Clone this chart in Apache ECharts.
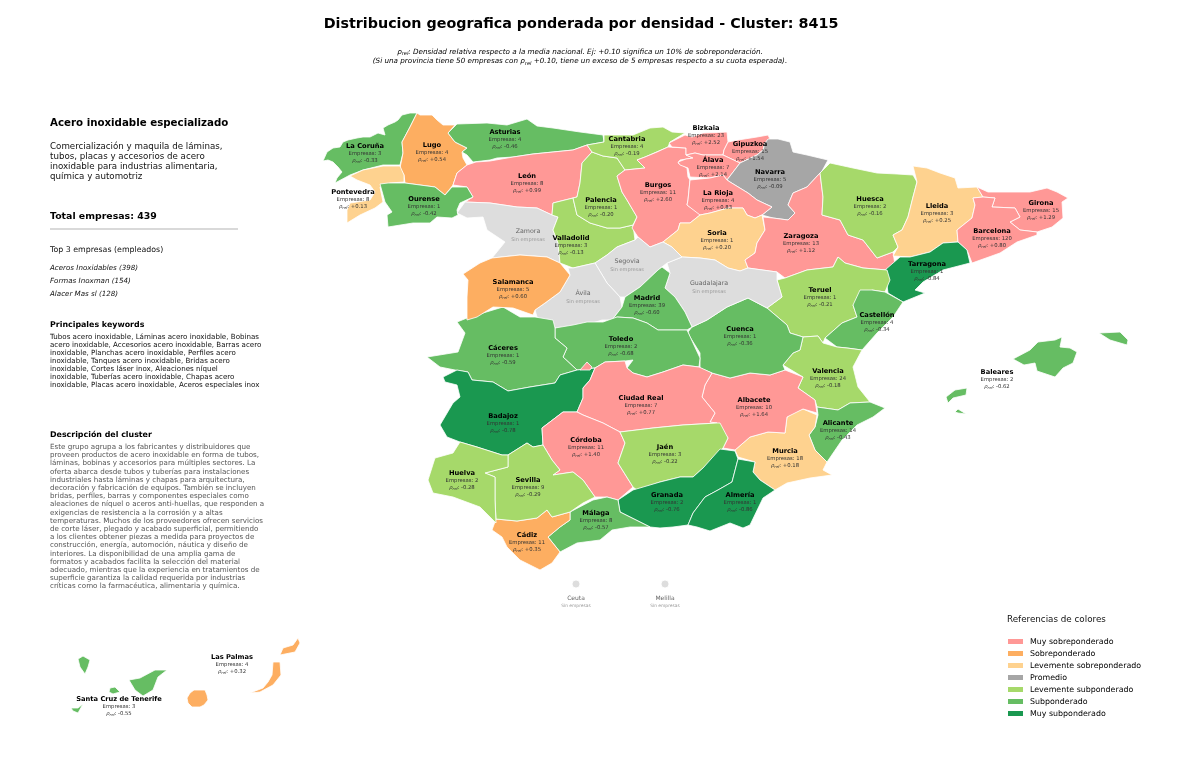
<!DOCTYPE html>
<html>
<head>
<meta charset="utf-8">
<title>Distribucion geografica</title>
<script src="https://cdn.jsdelivr.net/npm/echarts@6/dist/echarts.min.js"></script>
<style>
html,body{margin:0;padding:0;background:#fff;}
#chart{width:1200px;height:761px;}
</style>
</head>
<body>
<div id="chart"></div>
<script>
const provinces = ['La Coruña','Lugo','Asturias','León','Pontevedra','Ourense','Palencia','Valladolid','Salamanca','Cantabria','Bizkaia','Gipuzkoa','Álava','Burgos','La Rioja','Navarra','Soria','Zaragoza','Huesca','Madrid','Teruel','Lleida','Girona','Barcelona','Tarragona','Castellón','Baleares','Valencia','Cuenca','Toledo','Cáceres','Badajoz','Ciudad Real','Albacete','Alicante','Murcia','Jaén','Córdoba','Granada','Almería','Huelva','Sevilla','Málaga','Cádiz','Las Palmas','Santa Cruz de Tenerife'];
const empresas = [3,4,4,8,8,1,1,3,5,4,23,15,7,11,4,5,1,13,2,39,1,3,15,120,1,4,2,24,1,2,1,1,7,10,14,18,3,11,2,1,2,9,8,11,4,3];
const rhoRel = [-0.33,0.54,-0.46,0.99,0.13,-0.42,-0.20,-0.13,0.60,-0.19,2.52,1.54,2.14,2.60,0.83,-0.09,0.20,1.12,-0.16,-0.60,-0.21,0.25,1.29,0.80,-0.84,-0.34,-0.62,-0.18,-0.36,-0.68,-0.59,-0.78,0.77,1.64,-0.43,0.18,-0.22,1.40,-0.76,-0.86,-0.28,-0.29,-0.57,0.35,0.32,-0.55];
const sinEmpresas = ['Zamora','Ávila','Segovia','Guadalajara'];
const plazas = ['Ceuta','Melilla'];

const legendLabels = ['Muy sobreponderado','Sobreponderado','Levemente sobreponderado','Promedio','Levemente subponderado','Subponderado','Muy subponderado'];
const legendColors = ['#ff9896','#fdae61','#fed28f','#a6a6a6','#a6d96a','#66bd63','#1a9850'];

const resumen = 'Comercialización y maquila de láminas,\ntubos, placas y accesorios de acero\ninoxidable para industrias alimentaria,\nquímica y automotriz';
const top3 = ['Aceros Inoxidables (398)','Formas Inoxman (154)','Alacer Mas sl (128)'];
const keywords = 'Tubos acero inoxidable, Láminas acero inoxidable, Bobinas\nacero inoxidable, Accesorios acero inoxidable, Barras acero\ninoxidable, Planchas acero inoxidable, Perfiles acero\ninoxidable, Tanques acero inoxidable, Bridas acero\ninoxidable, Cortes láser inox, Aleaciones níquel\ninoxidable, Tuberías acero inoxidable, Chapas acero\ninoxidable, Placas acero inoxidable, Aceros especiales inox';
const descripcion = 'Este grupo agrupa a los fabricantes y distribuidores que\nproveen productos de acero inoxidable en forma de tubos,\nláminas, bobinas y accesorios para múltiples sectores. La\noferta abarca desde tubos y tuberías para instalaciones\nindustriales hasta láminas y chapas para arquitectura,\ndecoración y fabricación de equipos. También se incluyen\nbridas, perfiles, barras y componentes especiales como\naleaciones de níquel o aceros anti-huellas, que responden a\nexigencias de resistencia a la corrosión y a altas\ntemperaturas. Muchos de los proveedores ofrecen servicios\nde corte láser, plegado y acabado superficial, permitiendo\na los clientes obtener piezas a medida para proyectos de\nconstrucción, energía, automoción, náutica y diseño de\ninteriores. La disponibilidad de una amplia gama de\nformatos y acabados facilita la selección del material\nadecuado, mientras que la experiencia en tratamientos de\nsuperficie garantiza la calidad requerida por industrias\ncríticas como la farmacéutica, alimentaria y química.';

// province outlines traced in page pixels, [label anchor, ring, ring...]
const shapes = {
'La Coruña':[[365,153],[[417,113],[410,113],[402,115],[398,120],[395,122],[388,125],[383,128],[385,135],[378,133],[370,137],[363,137],[357,138],[348,140],[343,142],[340,147],[333,148],[327,152],[323,161],[328,160],[333,162],[338,167],[342,172],[337,178],[335,183],[350,175],[363,170],[383,165],[400,165],[403,153],[402,142],[410,127]]],
'Lugo':[[432,152],[[417,113],[420,115],[432,115],[437,120],[443,125],[455,125],[448,133],[455,142],[467,148],[462,152],[463,158],[467,165],[457,173],[453,185],[445,195],[435,187],[420,185],[405,183],[404,175],[400,168],[403,153],[402,142],[410,127]]],
'Asturias':[[505,139],[[448,133],[457,124],[487,123],[507,125],[527,119],[537,126],[553,128],[580,132],[603,135],[604,142],[587,145],[573,150],[553,152],[533,154],[513,157],[497,158],[490,160],[473,162],[467,155],[462,152],[467,148],[455,142]]],
'León':[[527,183],[[476,162],[490,161],[513,157],[533,154],[553,152],[573,150],[587,145],[592,152],[582,163],[580,183],[577,197],[553,203],[552,215],[537,208],[517,207],[490,203],[465,202],[473,197],[467,187],[453,185],[457,173],[467,165]]],
'Pontevedra':[[353,199],[[400,166],[404,175],[404,182],[390,183],[380,187],[383,202],[375,208],[360,215],[347,223],[347,210],[350,203],[370,200],[375,192],[370,185],[357,180],[350,176],[363,170],[383,166]]],
'Ourense':[[424,206],[[380,184],[388,183],[405,183],[420,185],[435,187],[445,195],[452,187],[467,187],[473,197],[460,203],[457,210],[458,215],[452,218],[437,217],[430,223],[413,223],[388,227],[387,215],[392,212],[385,202]]],
'Zamora':[[528,235],[[465,202],[490,203],[517,207],[537,208],[552,215],[558,217],[553,230],[558,243],[560,263],[547,257],[520,255],[492,258],[505,242],[487,230],[483,217],[467,218],[457,213]]],
'Valladolid':[[571,245],[[553,203],[573,198],[577,215],[590,223],[607,228],[620,228],[633,225],[635,240],[617,247],[607,255],[595,263],[573,268],[560,263],[558,243],[553,230],[558,217],[552,215]]],
'Palencia':[[601,207],[[592,152],[603,156],[617,158],[625,170],[617,176],[622,192],[627,200],[637,217],[633,225],[620,228],[607,228],[590,223],[577,215],[573,198],[577,197],[580,183],[582,163]]],
'Cantabria':[[627,146],[[604,135],[633,135],[650,128],[663,127],[672,132],[685,133],[670,142],[668,147],[645,157],[637,160],[645,168],[625,170],[617,158],[603,156],[592,152],[587,145],[604,142]]],
'Burgos':[[658,192],[[645,157],[657,152],[668,147],[686,148],[686,155],[693,158],[680,160],[678,163],[687,168],[688,177],[690,180],[688,200],[687,205],[697,212],[700,215],[690,223],[680,223],[678,230],[663,242],[650,247],[638,237],[632,228],[637,217],[627,200],[622,192],[617,176],[625,170],[645,168],[637,160]]],
'Bizkaia':[[706,135],[[669,143],[685,135],[692,137],[703,133],[727,132],[728,142],[724,150],[723,155],[703,155],[695,153],[686,155],[686,148],[672,147]]],
'Gipuzkoa':[[750,151],[[728,142],[738,140],[757,137],[768,135],[770,139],[765,143],[763,150],[757,155],[740,163],[723,155],[724,150]]],
'Álava':[[713,167],[[686,155],[695,153],[703,155],[723,155],[740,163],[727,180],[723,175],[710,178],[690,177],[688,168],[680,165],[678,162],[686,159],[693,158]]],
'Navarra':[[770,179],[[768,139],[778,139],[790,142],[793,152],[807,155],[828,160],[822,171],[820,173],[807,187],[793,193],[788,205],[795,213],[788,220],[773,218],[762,215],[772,207],[757,200],[748,193],[730,182],[727,180],[740,163],[757,155],[763,150],[765,143]]],
'La Rioja':[[718,200],[[690,180],[710,178],[723,175],[727,180],[730,182],[748,193],[757,200],[772,207],[762,215],[755,218],[747,215],[743,208],[728,208],[710,213],[700,215],[687,205],[688,200]]],
'Soria':[[717,240],[[663,242],[678,230],[680,223],[690,223],[700,215],[710,213],[728,208],[743,208],[747,215],[755,218],[762,215],[765,230],[757,243],[755,253],[745,260],[748,268],[740,271],[728,268],[715,260],[700,258],[682,257],[672,247]]],
'Zaragoza':[[801,243],[[763,217],[773,218],[788,220],[795,213],[788,205],[793,193],[807,187],[820,173],[823,197],[822,215],[840,220],[848,235],[863,240],[877,258],[893,252],[895,265],[887,270],[863,268],[845,263],[838,257],[833,267],[807,270],[785,278],[777,272],[748,268],[745,260],[755,253],[757,243],[765,230]]],
'Huesca':[[870,206],[[820,173],[830,163],[853,168],[877,173],[897,174],[913,175],[917,182],[913,197],[908,217],[902,230],[893,235],[898,247],[893,252],[877,258],[863,240],[848,235],[840,220],[822,215],[823,197]]],
'Lleida':[[937,213],[[913,166],[927,168],[940,173],[955,178],[958,188],[977,187],[983,197],[973,198],[975,205],[972,218],[957,230],[958,242],[943,243],[930,252],[910,257],[893,256],[898,247],[893,235],[902,230],[908,217],[913,197],[917,182]]],
'Girona':[[1041,210],[[977,187],[988,192],[1007,192],[1030,192],[1047,188],[1057,192],[1068,198],[1062,202],[1063,218],[1052,227],[1037,232],[1020,230],[1010,222],[1020,217],[1015,208],[992,207],[995,198],[983,197]]],
'Barcelona':[[992,238],[[973,198],[983,197],[995,198],[992,207],[1015,208],[1020,217],[1010,222],[1020,230],[1037,232],[1037,235],[1017,242],[1000,253],[972,263],[967,250],[958,242],[957,230],[972,218],[975,205]]],
'Tarragona':[[927,271],[[958,242],[967,250],[970,263],[943,270],[923,282],[915,290],[925,293],[903,302],[888,293],[885,270],[900,257],[910,257],[930,252],[943,243]]],
'Teruel':[[820,297],[[777,280],[785,278],[807,270],[833,267],[838,257],[845,263],[863,268],[887,270],[890,280],[885,292],[872,290],[853,305],[857,317],[842,323],[825,338],[823,343],[818,336],[803,337],[790,333],[787,325],[767,308],[782,297]]],
'Castellón':[[877,322],[[860,290],[872,290],[885,292],[903,302],[893,317],[877,333],[862,350],[847,348],[837,347],[825,338],[842,323],[857,317],[853,305]]],
'Baleares':[[997,379],[[1013,359],[1030,350],[1038,342],[1055,340],[1062,337],[1060,347],[1070,348],[1077,352],[1073,363],[1063,368],[1055,377],[1043,373],[1037,371],[1035,363],[1024,365]],[[1099,333],[1120,332],[1128,340],[1127,345],[1110,340]],[[946,397],[955,390],[967,388],[966,395],[953,398],[948,403]],[[955,412],[958,409],[966,414],[958,413]]],
'Valencia':[[828,378],[[803,337],[818,336],[823,343],[837,347],[847,348],[862,350],[853,367],[858,387],[870,402],[850,403],[838,410],[817,407],[815,400],[798,388],[803,377],[783,365],[793,353],[800,350]]],
'Alicante':[[838,430],[[817,407],[838,410],[850,403],[870,402],[885,408],[873,417],[857,425],[842,440],[827,462],[815,450],[809,435],[815,427],[818,415]]],
'Murcia':[[785,458],[[803,409],[817,415],[815,427],[809,435],[815,450],[827,462],[823,470],[832,475],[810,478],[787,483],[775,490],[760,480],[753,472],[755,462],[738,457],[735,450],[750,437],[768,432],[785,433],[787,417],[795,412]]],
'Albacete':[[754,407],[[712,373],[730,378],[750,373],[770,375],[785,370],[803,377],[798,388],[815,400],[817,413],[803,409],[787,417],[785,433],[768,432],[750,437],[735,450],[723,448],[728,438],[718,424],[710,422],[715,413],[702,397],[705,385]]],
'Cuenca':[[740,336],[[692,327],[707,320],[727,307],[748,298],[767,308],[787,325],[790,333],[803,337],[800,350],[793,353],[783,365],[785,370],[770,375],[750,373],[730,378],[712,373],[700,368],[700,353],[690,337],[688,332]]],
'Guadalajara':[[709,287],[[667,263],[682,257],[700,258],[715,260],[728,268],[740,271],[748,268],[777,272],[777,280],[782,297],[767,308],[748,298],[727,307],[707,320],[692,327],[685,312],[675,297],[665,288],[670,273]]],
'Segovia':[[627,265],[[617,247],[635,240],[638,237],[650,247],[663,242],[672,247],[682,257],[667,263],[658,270],[640,287],[625,297],[620,297],[607,283],[595,263],[607,255]]],
'Ávila':[[583,297],[[568,268],[573,268],[595,263],[607,283],[620,297],[622,307],[612,320],[602,320],[577,328],[555,328],[537,317],[535,310],[545,303],[560,292],[570,275]]],
'Madrid':[[647,305],[[662,267],[670,273],[665,288],[675,297],[685,312],[692,327],[687,330],[658,330],[647,323],[633,318],[617,317],[612,320],[622,307],[625,297],[640,287],[658,270]]],
'Toledo':[[621,346],[[555,328],[573,325],[587,322],[603,322],[617,317],[633,318],[647,323],[658,330],[687,330],[700,358],[699,367],[683,365],[663,372],[647,377],[633,373],[627,368],[633,360],[625,361],[605,362],[595,368],[577,370],[563,357],[567,348],[555,338]]],
'Cáceres':[[503,355],[[467,318],[483,313],[503,307],[520,317],[535,317],[553,320],[555,328],[555,338],[567,348],[563,357],[577,370],[560,375],[555,383],[530,387],[508,391],[493,382],[472,380],[468,372],[455,370],[440,367],[427,357],[458,352],[465,333],[457,322]]],
'Salamanca':[[513,289],[[463,274],[480,263],[492,258],[520,255],[547,257],[560,263],[570,275],[560,292],[545,303],[535,310],[533,315],[513,308],[493,307],[477,317],[467,320],[467,297],[468,280]]],
'Badajoz':[[503,423],[[443,377],[457,370],[468,372],[472,380],[493,382],[508,391],[530,387],[555,383],[560,375],[577,370],[595,368],[590,380],[583,388],[583,398],[577,412],[563,412],[542,428],[543,445],[533,447],[527,443],[508,455],[502,455],[477,447],[460,442],[447,437],[440,425],[453,403],[460,397],[457,385],[445,382]]],
'Ciudad Real':[[641,405],[[595,368],[605,362],[625,361],[627,368],[633,373],[647,377],[663,372],[683,365],[699,367],[712,373],[705,385],[702,397],[715,413],[710,422],[717,423],[683,425],[653,428],[620,432],[603,423],[583,415],[577,412],[583,398],[583,388],[590,380]],[[580,370],[587,362],[592,367],[590,370]]],
'Córdoba':[[586,447],[[542,428],[563,412],[577,412],[583,415],[603,423],[620,432],[625,443],[618,463],[633,487],[618,500],[607,497],[595,497],[583,480],[573,472],[553,475],[560,470],[552,460],[543,445]]],
'Jaén':[[665,454],[[620,432],[653,428],[683,425],[717,423],[720,423],[728,438],[723,448],[703,468],[693,477],[680,477],[660,482],[637,490],[633,487],[618,463],[625,443]]],
'Granada':[[667,502],[[633,490],[660,482],[680,477],[693,477],[703,468],[720,449],[735,451],[738,459],[732,482],[718,490],[705,497],[693,513],[688,525],[673,527],[660,528],[650,527],[620,512],[618,500]]],
'Almería':[[740,502],[[738,459],[755,462],[753,472],[760,480],[775,490],[763,498],[750,525],[743,528],[730,523],[710,531],[697,527],[688,525],[693,513],[705,497],[718,490],[732,482]]],
'Málaga':[[596,520],[[570,512],[593,500],[607,497],[618,500],[620,512],[650,527],[630,527],[612,530],[600,540],[577,543],[560,552],[548,537],[560,527],[570,520]]],
'Cádiz':[[527,542],[[496,519],[517,521],[537,518],[547,510],[552,517],[570,512],[570,520],[560,527],[548,537],[560,552],[552,563],[540,570],[520,560],[507,547],[502,537],[492,530]]],
'Sevilla':[[528,487],[[508,455],[527,443],[533,447],[543,445],[552,460],[560,470],[553,475],[573,472],[583,480],[595,497],[583,503],[570,512],[552,517],[547,510],[537,518],[517,521],[496,519],[495,500],[495,477],[485,473],[508,467]]],
'Huelva':[[462,480],[[460,442],[477,447],[502,455],[508,455],[508,467],[485,473],[495,477],[495,500],[496,523],[480,507],[453,497],[433,493],[428,480],[435,458],[453,453]]],
'Las Palmas':[[232,664],[[187,698],[190,693],[194,690],[205,690],[207,695],[208,700],[204,705],[200,707],[192,707],[188,703]],[[250,693],[263,688],[268,682],[272,675],[273,662],[280,662],[281,675],[273,685],[260,692]],[[280,655],[283,648],[293,645],[298,638],[300,643],[295,652]]],
'Santa Cruz de Tenerife':[[119,706],[[78,659],[83,656],[90,660],[88,667],[85,674],[80,667]],[[129,680],[140,678],[155,670],[167,670],[158,677],[153,690],[143,696],[135,690]],[[110,688],[115,687],[120,692],[113,694],[109,692]],[[71,708],[78,708],[83,704],[78,713],[73,711]]],
'Ceuta':[[576,602],[[576,580],[579,581],[580,584],[579,587],[576,588],[573,587],[572,584],[573,581]]],
'Melilla':[[665,602],[[665,580],[668,581],[669,584],[668,587],[665,588],[662,587],[661,584],[662,581]]]
};

const buildGeoJson=()=>{
    const flip=(p)=>[p[0],761-p[1]];
    const features=Object.keys(shapes).map((name)=>{
        const entry=shapes[name];
        return {
            type:'Feature',
            properties:{name:name,cp:flip(entry[0])},
            geometry:{type:'MultiPolygon',coordinates:entry.slice(1).map((ring)=>[ring.map(flip)])}
        };
    });
    return {type:'FeatureCollection',features:features};
};

const labelFor=(params)=>{
    const i=provinces.indexOf(params.name);
    if(i<0){
        if(plazas.indexOf(params.name)>=0){
            return '{pn|'+params.name+'}\n{ps|Sin empresas}';
        }
        return '{gn|'+params.name+'}\n{gs|Sin empresas}';
    }
    const v=rhoRel[i];
    return '{nm|'+params.name+'}\n{em|Empresas: '+empresas[i]+'}\n{rh|ρ}{rs|rel}{em|: '+(v>0?'+':'')+v.toFixed(2)+'}';
};

const textBlock=(x,y,text,size,extra)=>({
    type:'text',
    x:x,y:y,silent:true,
    style:Object.assign({text:text,fontFamily:'DejaVu Sans',fontSize:size,fill:'#000',verticalAlign:'top',align:'left'},extra||{})
});

const getOption=()=>{
    const pieces=[
        {min:0.75,label:legendLabels[0],color:legendColors[0]},
        {min:0.3,max:0.75,label:legendLabels[1],color:legendColors[1]},
        {min:0.1,max:0.3,label:legendLabels[2],color:legendColors[2]},
        {min:-0.1,max:0.1,label:legendLabels[3],color:legendColors[3]},
        {min:-0.3,max:-0.1,label:legendLabels[4],color:legendColors[4]},
        {min:-0.7,max:-0.3,label:legendLabels[5],color:legendColors[5]},
        {max:-0.7,label:legendLabels[6],color:legendColors[6]}
    ];
    return {
        backgroundColor:'#fff',
        animation:false,
        textStyle:{fontFamily:'DejaVu Sans'},
        title:[
            {
                text:'Distribucion geografica ponderada por densidad - Cluster: 8415',
                left:581,top:17,padding:0,textAlign:'center',
                textStyle:{fontFamily:'DejaVu Sans',fontSize:14.3,fontWeight:'bold',color:'#000'}
            },
            {
                text:'{i|ρ}{s|rel}{i|: Densidad relativa respecto a la media nacional. Ej: +0.10 significa un 10% de sobreponderación.}\n{i|(Si una provincia tiene 50 empresas con ρ}{s|rel}{i| +0.10, tiene un exceso de 5 empresas respecto a su cuota esperada).}',
                left:580,top:47,padding:0,textAlign:'center',
                textStyle:{
                    fontWeight:'normal',
                    rich:{
                        i:{fontFamily:'DejaVu Sans',fontStyle:'italic',fontWeight:'normal',fontSize:7.2,color:'#000',lineHeight:9.5},
                        s:{fontFamily:'DejaVu Sans',fontStyle:'italic',fontWeight:'normal',fontSize:5.1,color:'#000',lineHeight:9.5,verticalAlign:'bottom'}
                    }
                }
            }
        ],
        visualMap:{
            type:'piecewise',
            show:true,
            orient:'vertical',
            left:1008,top:637.5,
            padding:0,
            itemWidth:15,itemHeight:5,itemGap:4,itemSymbol:'rect',
            textGap:7,
            align:'left',
            hoverLink:false,
            selectedMode:false,
            pieces:pieces,
            outOfRange:{color:'#dddddd'},
            textStyle:{fontFamily:'DejaVu Sans',fontSize:7.9,color:'#000'}
        },
        graphic:[
            textBlock(50,118,'Acero inoxidable especializado',10.25,{fontWeight:'bold'}),
            textBlock(50,142,resumen,8.7,{lineHeight:9.8,fill:'#111'}),
            textBlock(50,212,'Total empresas: 439',9.4,{fontWeight:'bold'}),
            {type:'line',silent:true,shape:{x1:50,y1:229,x2:238,y2:229},style:{stroke:'#cccccc',lineWidth:1.5}},
            textBlock(50,245.5,'Top 3 empresas (empleados)',7.85,{fill:'#111'}),
            textBlock(50,264.5,top3[0],7.1,{fontStyle:'italic',fill:'#111'}),
            textBlock(50,277.5,top3[1],7.1,{fontStyle:'italic',fill:'#111'}),
            textBlock(50,290.5,top3[2],7.1,{fontStyle:'italic',fill:'#111'}),
            textBlock(50,320.5,'Principales keywords',7.9,{fontWeight:'bold'}),
            textBlock(50,333,keywords,7.12,{lineHeight:8,fill:'#111'}),
            textBlock(50,430.5,'Descripción del cluster',7.9,{fontWeight:'bold'}),
            textBlock(50,443,descripcion,7.13,{lineHeight:8.2,fill:'#555'}),
            textBlock(1007,615,'Referencias de colores',8.75,{fill:'#111'})
        ],
        series:[
            {
                type:'map',
                map:'spainProvincias',
                aspectScale:1,
                boundingCoords:[[0,761],[1200,0]],
                left:0,top:0,right:0,bottom:0,
                roam:false,
                silent:true,
                selectedMode:false,
                emphasis:{disabled:true},
                itemStyle:{areaColor:'#dddddd',borderColor:'#ffffff',borderWidth:0.8},
                label:{
                    show:true,
                    formatter:labelFor,
                    rich:{
                        nm:{fontFamily:'DejaVu Sans',fontSize:6.7,fontWeight:'bold',color:'#000',lineHeight:9,align:'center'},
                        em:{fontFamily:'DejaVu Sans',fontSize:5.3,color:'#333',lineHeight:7,align:'center'},
                        rh:{fontFamily:'DejaVu Sans',fontSize:5.3,fontStyle:'italic',color:'#333',lineHeight:7},
                        rs:{fontFamily:'DejaVu Sans',fontSize:3.8,fontStyle:'italic',color:'#333',lineHeight:7,verticalAlign:'bottom'},
                        gn:{fontFamily:'DejaVu Sans',fontSize:6.3,color:'#666',lineHeight:9,align:'center'},
                        gs:{fontFamily:'DejaVu Sans',fontSize:5,color:'#999',lineHeight:7,align:'center'},
                        pn:{fontFamily:'DejaVu Sans',fontSize:6,color:'#666',lineHeight:8,align:'center'},
                        ps:{fontFamily:'DejaVu Sans',fontSize:4.4,color:'#999',lineHeight:8,align:'center'}
                    }
                },
                data:provinces.map((name,i)=>({name:name,value:rhoRel[i]}))
            }
        ]
    };
};

const initChart=()=>{
    echarts.registerMap('spainProvincias',buildGeoJson());
    const chart=echarts.init(document.getElementById('chart'),null,{renderer:'canvas'});
    chart.setOption(getOption());
};

window.addEventListener('load',()=>{
    initChart();
});
</script>
</body>
</html>
